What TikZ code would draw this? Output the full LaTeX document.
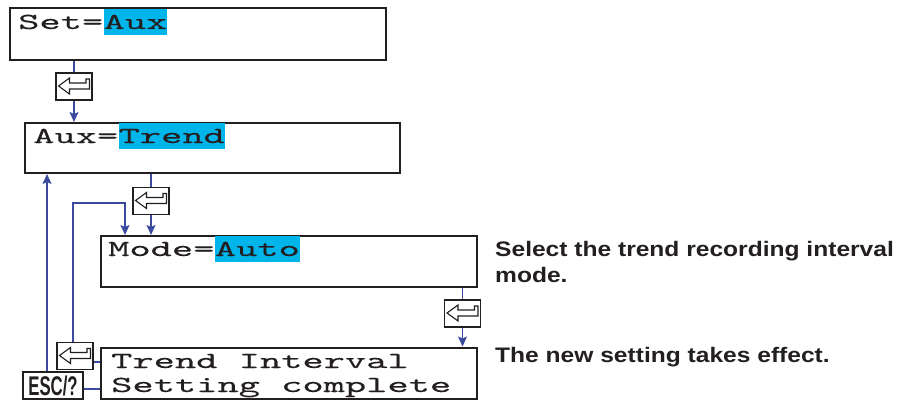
\documentclass[tikz,border=0pt]{standalone}
\usepackage{fontspec}
\setmainfont{Liberation Sans}
\newfontfamily\lcd[FakeStretch=1.76,FakeBold=0.2]{lmmono10-regular.otf}
\newfontfamily\escfont[FakeStretch=0.62]{Liberation Sans}
\newfontfamily\notefont[FakeStretch=1.17]{Liberation Sans}
\usetikzlibrary{arrows.meta,calc}
\definecolor{boxline}{HTML}{231F20}
\definecolor{connblue}{HTML}{3B4A9E}
\definecolor{hlcyan}{HTML}{00B5E9}
\tikzset{
  lcdbox/.style={draw=boxline, line width=2pt, inner sep=0, fill=white},
  lcdtxt/.style={font=\lcd\fontsize{23}{23}\selectfont, inner sep=0, text=boxline},
  hl/.style={fill=hlcyan, text height=20pt, text depth=6pt},
  note/.style={font=\notefont\bfseries\fontsize{21}{21}\selectfont, inner sep=0, text=boxline},
  conn/.style={draw=connblue, line width=1.2pt},
  arr/.style={-{Stealth[length=10pt,width=9pt,inset=2pt]}},
  enterkey/.style={draw=boxline, line width=1.3pt, fill=white, inner sep=0,
    minimum width=36pt, minimum height=27pt,
    path picture={
      \coordinate (pp) at (path picture bounding box.north west);
      \draw[line width=1.1pt, line join=miter, boxline]
        ($(pp)+(2.5,13)$) -- ($(pp)+(13.5,5)$) -- ($(pp)+(13.5,10)$) -- ($(pp)+(30,10)$)
        -- ($(pp)+(30,6)$) -- ($(pp)+(33.5,6)$) -- ($(pp)+(33.5,16)$) -- ($(pp)+(13.5,16)$)
        -- ($(pp)+(13.5,21)$) -- cycle;
    }},
  esckey/.style={draw=boxline, line width=1.3pt, fill=white, inner sep=0,
    minimum width=60pt, minimum height=27pt,
    font=\escfont\bfseries\fontsize{27}{27}\selectfont, text=boxline}
}
\begin{document}
\begin{tikzpicture}[x=1pt,y=-1pt]
\useasboundingbox (0,0) rectangle (904,401);
% LCD boxes
\node[lcdbox, minimum width=376pt, minimum height=52pt] (b1) at (198,34) {};
\node[lcdbox, minimum width=375pt, minimum height=50pt] (b2) at (212.5,148) {};
\node[lcdbox, minimum width=376pt, minimum height=51pt] (b3) at (289,261.5) {};
\node[lcdbox, minimum width=376pt, minimum height=51pt] (b4) at (289,373) {};
% texts
\node[lcdtxt, anchor=base west] (t1) at (18,29) {Set=};
\node[lcdtxt, hl, anchor=base west] (h1) at (t1.base east) {Aux};
\node[lcdtxt, anchor=base west] (t2) at (33,143) {Aux=};
\node[lcdtxt, hl, anchor=base west] (h2) at (t2.base east) {Trend};
\node[lcdtxt, anchor=base west] (t3) at (108,256) {Mode=};
\node[lcdtxt, hl, anchor=base west] (h3) at (t3.base east) {Auto};
\node[lcdtxt, anchor=base west] (t4a) at (111,368) {Trend Interval};
\node[lcdtxt, anchor=base west] (t4b) at (111,392) {Setting complete};
% notes
\node[note, anchor=base west] (n1) at (495,256) {Select the trend recording interval};
\node[note, anchor=base west] (n1b) at (495,282) {mode.};
\node[note, anchor=base west] (n2) at (495,362) {The new setting takes effect.};
% keys
\node[enterkey] (e1) at (74,86.5) {};
\node[enterkey] (e2) at (151,201) {};
\node[enterkey] (e3) at (462.5,313.5) {};
\node[enterkey] (e4) at (75,356) {};
\node[esckey] (esc) at (53,385.5) {ESC/?};
% helper coordinates
\coordinate (fb) at (125,203);
\coordinate (e4top) at ($(e4.north)+(-2,0)$);
\coordinate (e4out) at ($(e4.east)+(0,6)$);
\coordinate (escout) at ($(esc.east)+(0,3.5)$);
\coordinate (escup) at ($(esc.north)+(-6,0)$);
% connectors
\draw[conn] (b1.south -| e1) -- (e1.north);
\draw[conn,arr] (e1.south) -- (e1.south |- b2.north);
\draw[conn] (b2.south -| e2) -- (e2.north);
\draw[conn,arr] (e2.south) -- (e2.south |- b3.north);
\draw[conn] (b3.south -| e3) -- (e3.north);
\draw[conn,arr] (e3.south) -- (e3.south |- b4.north);
\draw[conn,arr] (e4top) |- (fb) -- (fb |- b3.north);
\draw[conn] (e4out) -- (e4out -| b4.west);
\draw[conn] (escout) -- (escout -| b4.west);
\draw[conn,arr] (escup) -- (escup |- b2.south);
\end{tikzpicture}
\end{document}
